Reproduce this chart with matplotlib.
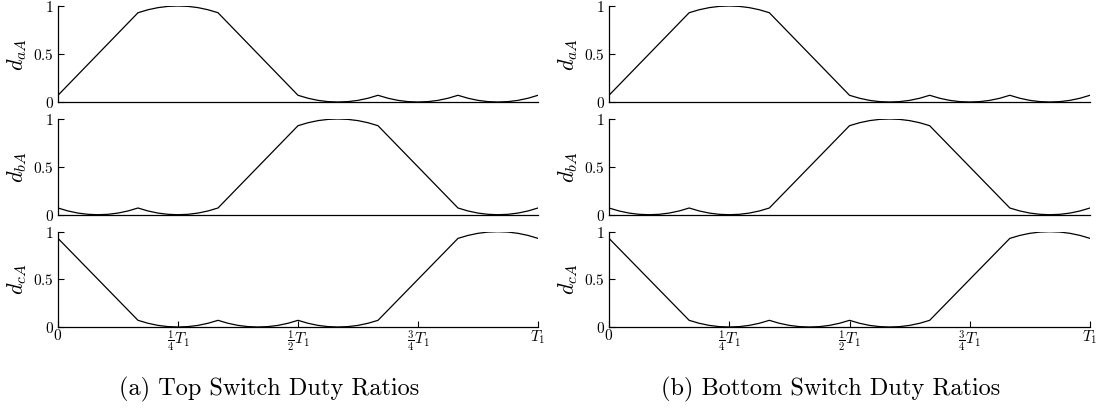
import numpy as np
import matplotlib
matplotlib.use("Agg")
import matplotlib.pyplot as plt

plt.rcParams['mathtext.fontset'] = 'cm'
plt.rcParams['font.family'] = 'cmr10'
plt.rcParams['axes.unicode_minus'] = False

# time axis in fractions of T1, sampled every T1/48
t = np.linspace(0, 1, 49)

# one sixth of the period per segment
rise = [0.07, 0.1775, 0.285, 0.3925, 0.50, 0.6075, 0.715, 0.8225, 0.93]
cap = [0.93, 0.961, 0.983, 0.996, 1.0, 0.996, 0.983, 0.961, 0.93]
fall = [0.93, 0.8225, 0.715, 0.6075, 0.50, 0.3925, 0.285, 0.1775, 0.07]
trough = [0.07, 0.039, 0.017, 0.004, 0.0, 0.004, 0.017, 0.039, 0.07]

d_aA = rise + cap[1:] + fall[1:] + trough[1:] + trough[1:] + trough[1:]
d_bA = trough + trough[1:] + rise[1:] + cap[1:] + fall[1:] + trough[1:]
d_cA = fall + trough[1:] + trough[1:] + trough[1:] + rise[1:] + cap[1:]

series = [d_aA, d_bA, d_cA]
ylabels = [r'$d_{aA}$', r'$d_{bA}$', r'$d_{cA}$']
xticks = [0, 0.25, 0.5, 0.75, 1.0]
xticklabels = [r'$0$', r'$\frac{1}{4}T_1$', r'$\frac{1}{2}T_1$', r'$\frac{3}{4}T_1$', r'$T_1$']
captions = ['(a) Top Switch Duty Ratios', '(b) Bottom Switch Duty Ratios']

W, H = 1102, 411
fig = plt.figure(figsize=(W / 100, H / 100), dpi=100)

panels = [(58, 538, 269), (609, 1090, 831)]
rows = [(6, 102), (119, 214.7), (231.7, 327)]

for (x0, x1, cx), cap_text in zip(panels, captions):
    for k, ((y0, y1), d, lab) in enumerate(zip(rows, series, ylabels)):
        ax = fig.add_axes([x0 / W, 1 - y1 / H, (x1 - x0) / W, (y1 - y0) / H])
        ax.plot(t, d, color='black', lw=0.9)
        ax.set_xlim(0, 1)
        ax.set_ylim(0, 1)
        for s in ['top', 'right']:
            ax.spines[s].set_visible(False)
        for s in ['left', 'bottom']:
            ax.spines[s].set_linewidth(0.9)
        ax.set_yticks([0, 0.5, 1])
        ax.set_yticklabels([r'$0$', r'$0.5$', r'$1$'], fontsize=11)
        ax.tick_params(axis='y', direction='in', length=4, width=0.8, pad=3)
        if k == 2:
            ax.set_xticks(xticks)
            ax.set_xticklabels(xticklabels, fontsize=11)
            ax.tick_params(axis='x', direction='in', length=4, width=0.8, pad=1)
        else:
            ax.set_xticks([])
        ax.set_ylabel(lab, fontsize=16, labelpad=3)
        ax.patch.set_visible(False)
    fig.text(cx / W, 1 - 389 / H, cap_text, ha='center', va='center', fontsize=17.5)

fig.savefig('out.png', dpi=100)
